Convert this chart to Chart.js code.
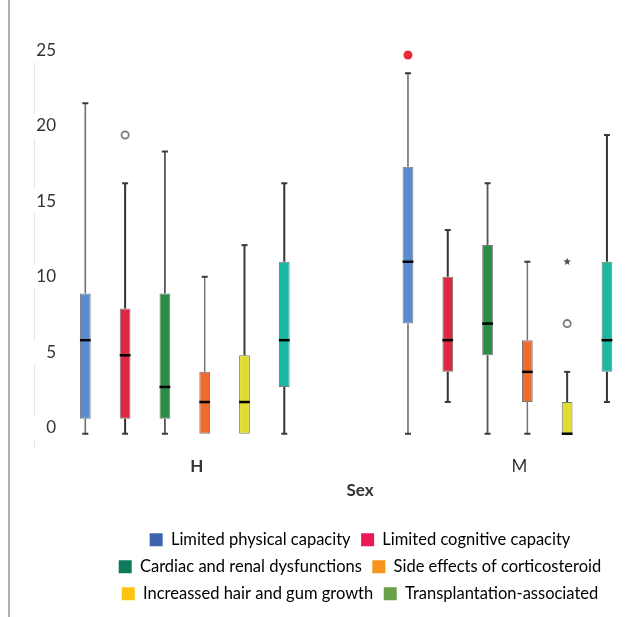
<!DOCTYPE html>
<html>
<head>
<meta charset="utf-8">
<script src="https://cdn.jsdelivr.net/npm/chart.js@4"></script>
<style>
  html, body { margin: 0; padding: 0; background: #ffffff; }
  #wrap { width: 633px; height: 617px; }
</style>
</head>
<body>
<div id="wrap"><canvas id="c" width="633" height="617"></canvas></div>
<script>
// ---------- DATA ----------
const categories = ['H', 'M'];
const seriesNames = [
  'Limited physical capacity',
  'Limited cognitive capacity',
  'Cardiac and renal dysfunctions',
  'Side effects of corticosteroid',
  'Increassed hair and gum growth',
  'Transplantation-associated'
];
// each row = one series, values for [H, M]
const minValues    = [[-0.4, -0.4], [-0.4, 1.7], [-0.4, -0.4], [-0.4, -0.4], [-0.4, -0.4], [-0.4, 1.7]];
const q1Values     = [[0.6, 6.9],   [0.6, 3.7],  [0.6, 4.8],   [-0.4, 1.7],  [-0.4, -0.4], [2.7, 3.7]];
const medianValues = [[5.8, 11.0],  [4.8, 5.8],  [2.7, 6.9],   [1.7, 3.7],   [1.7, -0.4],  [5.8, 5.8]];
const q3Values     = [[8.9, 17.3],  [7.9, 10.0], [8.9, 12.1],  [3.7, 5.8],   [4.8, 1.7],   [11.0, 11.0]];
const maxValues    = [[21.5, 23.5], [16.2, 13.1],[18.3, 16.2], [10.0, 11.0], [12.1, 3.7],  [16.2, 19.4]];
const outlierSeries   = [1, 0, 4, 4];
const outlierCategory = [0, 1, 1, 1];
const outlierValues   = [19.4, 24.7, 6.9, 11.0];
const outlierMarkers  = ['circle', 'dot', 'circle', 'star'];
const yTickValues = [0, 5, 10, 15, 20, 25];

// ---------- STYLES ----------
const boxColors = ['#5b8ccf', '#de2740', '#2a8c47', '#ee6b2f', '#e0dc33', '#1bb8a3'];
const legendColors = ['#3e64ae', '#ec1a52', '#0d7a5c', '#f7941d', '#fdc311', '#6aa04a'];
const whiskerColors = ['#707070', '#333333', '#555555', '#777777', '#3a3a3a', '#333333'];
const whiskerWidths = [1.6, 2, 1.8, 1.5, 2, 2];

Chart.defaults.font.family = 'Lato, "Open Sans", sans-serif';
Chart.defaults.color = '#333333';

const datasets = seriesNames.map((name, s) => ({
  label: name,
  data: categories.map((c, i) => ({ x: i, y: [q1Values[s][i], q3Values[s][i]] })),
  backgroundColor: boxColors[s],
  borderColor: '#7a7a7a',
  borderWidth: 1,
  borderSkipped: false,
  categoryPercentage: 0.74,
  barPercentage: 0.27,
  clip: false
}));

const boxPlotPlugin = {
  id: 'boxplotParts',
  beforeDraw(chart) {
    const ctx = chart.ctx;
    ctx.save();
    ctx.fillStyle = '#ffffff';
    ctx.fillRect(0, 0, chart.width, chart.height);
    // page frame line
    ctx.fillStyle = '#b0b0b0';
    ctx.fillRect(8, 0, 2, chart.height);
    // faint y axis line, broken around tick labels
    const y = chart.scales.y;
    const lx = y.left - 1.5;
    ctx.strokeStyle = '#e4e4e4';
    ctx.lineWidth = 1;
    const ticks = y.ticks.map(t => y.getPixelForValue(t.value)).sort((a, b) => a - b);
    const gap = 12;
    ctx.beginPath();
    for (let k = 0; k < ticks.length - 1; k++) {
      ctx.moveTo(lx, ticks[k] + gap);
      ctx.lineTo(lx, ticks[k + 1] - gap);
    }
    ctx.moveTo(lx, ticks[ticks.length - 1] + gap);
    ctx.lineTo(lx, y.bottom);
    ctx.stroke();
    ctx.restore();
  },
  afterDatasetsDraw(chart) {
    const ctx = chart.ctx;
    const ys = chart.scales.y;
    ctx.save();
    chart.data.datasets.forEach((ds, s) => {
      const meta = chart.getDatasetMeta(s);
      meta.data.forEach((bar, i) => {
        const x = bar.x;
        const w = bar.width;
        const pMin = ys.getPixelForValue(minValues[s][i]);
        const pQ1 = ys.getPixelForValue(q1Values[s][i]);
        const pMed = ys.getPixelForValue(medianValues[s][i]);
        const pQ3 = ys.getPixelForValue(q3Values[s][i]);
        const pMax = ys.getPixelForValue(maxValues[s][i]);
        ctx.strokeStyle = whiskerColors[s];
        ctx.lineWidth = whiskerWidths[s];
        ctx.beginPath();
        if (pMax < pQ3 - 0.5) { ctx.moveTo(x, pQ3); ctx.lineTo(x, pMax); }
        if (pMin > pQ1 + 0.5) { ctx.moveTo(x, pQ1); ctx.lineTo(x, pMin); }
        ctx.stroke();
        ctx.lineWidth = 2;
        ctx.strokeStyle = '#3a3a3a';
        ctx.beginPath();
        if (pMax < pQ3 - 0.5) { ctx.moveTo(x - 3, pMax); ctx.lineTo(x + 3, pMax); }
        if (pMin > pQ1 + 0.5) { ctx.moveTo(x - 3, pMin); ctx.lineTo(x + 3, pMin); }
        ctx.stroke();
        // median
        ctx.strokeStyle = '#000000';
        ctx.lineWidth = 2.5;
        ctx.beginPath();
        ctx.moveTo(x - w / 2, pMed);
        ctx.lineTo(x + w / 2, pMed);
        ctx.stroke();
      });
    });
    // outliers
    outlierValues.forEach((v, k) => {
      const bar = chart.getDatasetMeta(outlierSeries[k]).data[outlierCategory[k]];
      const x = bar.x;
      const py = ys.getPixelForValue(v);
      const m = outlierMarkers[k];
      if (m === 'circle') {
        ctx.strokeStyle = '#7a7a7a';
        ctx.lineWidth = 1.8;
        ctx.beginPath();
        ctx.arc(x, py, 3.6, 0, Math.PI * 2);
        ctx.stroke();
      } else if (m === 'dot') {
        ctx.fillStyle = '#ec2a35';
        ctx.beginPath();
        ctx.arc(x, py, 4.5, 0, Math.PI * 2);
        ctx.fill();
      } else if (m === 'star') {
        ctx.fillStyle = '#505050';
        ctx.beginPath();
        for (let j = 0; j < 10; j++) {
          const r = j % 2 === 0 ? 4 : 1.7;
          const a = -Math.PI / 2 + j * Math.PI / 5;
          const px = x + r * Math.cos(a), pyy = py + r * Math.sin(a);
          if (j === 0) ctx.moveTo(px, pyy); else ctx.lineTo(px, pyy);
        }
        ctx.closePath();
        ctx.fill();
      }
    });
    ctx.restore();
  }
};

new Chart(document.getElementById('c'), {
  type: 'bar',
  data: { datasets },
  options: {
    responsive: false,
    animation: false,
    layout: { padding: { top: 50.5, left: 36, right: 1, bottom: 5 } },
    scales: {
      x: {
        type: 'linear',
        offset: false,
        min: -0.3,
        max: 1.386,
        grid: { display: false, drawTicks: false, offset: false },
        border: { display: false },
        afterBuildTicks: (scale) => { scale.ticks = categories.map((c, i) => ({ value: i })); },
        ticks: {
          padding: 8,
          labelOffset: 12,
          color: '#333333',
          font: (ctx) => ({ size: 17, weight: ctx.tick && ctx.tick.value === 0 ? 'bold' : 'normal' }),
          callback: (v) => categories[v] !== undefined ? categories[v] : ''
        },
        title: {
          display: true,
          text: 'Sex',
          color: '#333333',
          font: { size: 17, weight: 'bold' },
          padding: { top: -4.9, bottom: 20.3 }
        }
      },
      y: {
        min: -1.4,
        max: 25,
        grid: { display: false, drawTicks: false },
        border: { display: false },
        afterFit: (scale) => { scale.width = 52; },
        afterBuildTicks: (scale) => { scale.ticks = yTickValues.map(v => ({ value: v })); },
        ticks: { padding: 32, color: '#333333', font: { size: 17 } }
      }
    },
    plugins: {
      tooltip: { enabled: false },
      legend: {
        position: 'bottom',
        fullSize: false,
        labels: {
          font: { size: 16.5 },
          color: '#333333',
          boxWidth: 13,
          boxHeight: 13,
          padding: 10.5,
          generateLabels: () => seriesNames.map((n, i) => ({
            text: n,
            fillStyle: legendColors[i],
            strokeStyle: legendColors[i],
            lineWidth: 0,
            hidden: false,
            datasetIndex: i
          }))
        }
      }
    }
  },
  plugins: [boxPlotPlugin]
});
</script>
</body>
</html>
